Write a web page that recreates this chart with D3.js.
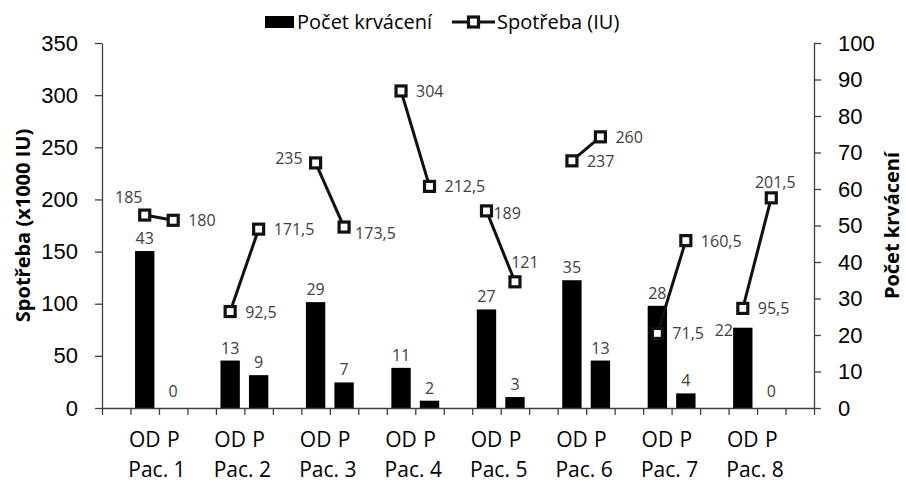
<!DOCTYPE html>
<html>
<head>
<meta charset="utf-8">
<script src="https://cdn.jsdelivr.net/npm/d3@7"></script>
<style>
	body { margin: 0; background: #fff; }
	svg { display: block; font-family: 'Open Sans', sans-serif; }
	.axis path, .axis line { stroke: #404040; stroke-width: 1.3; }
	.axis text { fill: #000; font-size: 22px; }
	.dlabel { fill: #404040; font-size: 16px; }
</style>
</head>
<body>
<div id="graph"></div>
<script>
// data
var patients = ['Pac. 1', 'Pac. 2', 'Pac. 3', 'Pac. 4', 'Pac. 5', 'Pac. 6', 'Pac. 7', 'Pac. 8'];
var periods = ['OD', 'P'];

// Počet krvácení (right axis), OD / P
var bleedOD = [43, 13, 29, 11, 27, 35, 28, 22];
var bleedP = [0, 9, 7, 2, 3, 13, 4, 0];

// Spotřeba (x1000 IU) (left axis), OD / P
var useOD = [185, 92.5, 235, 304, 189, 237, 71.5, 95.5];
var useP = [180, 171.5, 173.5, 212.5, 121, 260, 160.5, 201.5];

var leftTicks = [0, 50, 100, 150, 200, 250, 300, 350];
var rightTicks = [0, 10, 20, 30, 40, 50, 60, 70, 80, 90, 100];

// where the consumption labels sit next to their marker
var useLabelOD = ['tl', 'r', 'l', 'r', 'rc', 'r', 'r', 'r'];
var useLabelP = ['r', 'r', 'br', 'r', 'tr', 'r', 'r', 't'];
var bleedLabelOD = ['t', 't', 't', 't', 't', 't', 't', 'tl'];


var width = 906,
	height = 485;

var plot = { left: 102, right: 814, top: 43, bottom: 408 };

var svg = d3.select('#graph').append('svg')
	.attr('width', width)
	.attr('height', height);

// 25 slots: a blank one first, then OD, P, blank for each patient
var slots = d3.range(patients.length * 3 + 1);

var xScale = d3.scaleBand()
	.domain(slots)
	.range([plot.left, plot.right])
	.paddingInner(0)
	.paddingOuter(0);

var xEdge = d3.scaleLinear()
	.domain([0, slots.length])
	.range([plot.left, plot.right]);

var yLeft = d3.scaleLinear()
	.domain([0, 350])
	.range([plot.bottom, plot.top]);

var yRight = d3.scaleLinear()
	.domain([0, 100])
	.range([plot.bottom, plot.top]);

function slotOf(p, k) {
	return p * 3 + 1 + k;
}

function cx(p, k) {
	return xScale(slotOf(p, k)) + xScale.bandwidth() / 2;
}

function fmt(v) {
	return String(v).replace('.', ',');
}


// rows for bars and points
var bars = [];
var points = [];
patients.forEach(function(name, p) {
	bars.push({ p: p, k: 0, v: bleedOD[p], pos: bleedLabelOD[p] });
	bars.push({ p: p, k: 1, v: bleedP[p], pos: 't' });
	points.push({ p: p, k: 0, v: useOD[p], pos: useLabelOD[p] });
	points.push({ p: p, k: 1, v: useP[p], pos: useLabelP[p] });
});


// bars
var barW = xScale.bandwidth() * 0.68;

svg.append('g').selectAll('rect').data(bars).enter()
	.append('rect')
		.attr('x', function(d) { return cx(d.p, d.k) - barW / 2; })
		.attr('y', function(d) { return yRight(d.v); })
		.attr('width', barW)
		.attr('height', function(d) { return plot.bottom - yRight(d.v); })
		.attr('fill', '#000');

svg.append('g').selectAll('text').data(bars).enter()
	.append('text')
		.attr('class', 'dlabel')
		.attr('text-anchor', 'middle')
		.attr('x', function(d) { return cx(d.p, d.k) + (d.pos == 'tl' ? -19 : 0); })
		.attr('y', function(d) { return yRight(d.v) - (d.v == 0 ? 11 : 7) + (d.pos == 'tl' ? 15 : 0); })
		.text(function(d) { return fmt(d.v); });


// axes
svg.append('g')
	.attr('class', 'axis')
	.attr('transform', 'translate(' + plot.left + ',0)')
	.call(d3.axisLeft(yLeft).tickValues(leftTicks).tickSize(7).tickSizeOuter(0).tickPadding(17));

svg.append('g')
	.attr('class', 'axis')
	.attr('transform', 'translate(' + plot.right + ',0)')
	.call(d3.axisRight(yRight).tickValues(rightTicks).tickSize(7).tickSizeOuter(0).tickPadding(17));

svg.append('g')
	.attr('class', 'axis')
	.attr('transform', 'translate(0,' + plot.bottom + ')')
	.call(d3.axisBottom(xEdge).tickValues(d3.range(slots.length + 1)).tickSize(7).tickSizeOuter(0).tickFormat(''));

// category labels
var catG = svg.append('g').attr('font-size', '21px').attr('text-anchor', 'middle');
patients.forEach(function(name, p) {
	periods.forEach(function(per, k) {
		catG.append('text')
			.attr('x', cx(p, k))
			.attr('y', 447)
			.text(per);
	});
	catG.append('text')
		.attr('x', (cx(p, 0) + cx(p, 1)) / 2 - 2)
		.attr('y', 477)
		.text(name);
});


// consumption lines, one segment per patient
var line = d3.line()
	.x(function(d) { return cx(d.p, d.k); })
	.y(function(d) { return yLeft(d.v); });

patients.forEach(function(name, p) {
	svg.append('path')
		.datum(points.filter(function(d) { return d.p == p; }))
		.attr('d', line)
		.attr('fill', 'none')
		.attr('stroke', '#111')
		.attr('stroke-width', 3);
});

var mk = 10;
svg.append('g').selectAll('rect').data(points).enter()
	.append('rect')
		.attr('x', function(d) { return cx(d.p, d.k) - mk / 2; })
		.attr('y', function(d) { return yLeft(d.v) - mk / 2; })
		.attr('width', mk)
		.attr('height', mk)
		.attr('fill', '#fff')
		.attr('stroke', '#111')
		.attr('stroke-width', 3.2);

var offsets = {
	r:  { dx: 15, dy: 6, anchor: 'start' },
	rc: { dx: 7, dy: 8, anchor: 'start' },
	l:  { dx: -13, dy: 1, anchor: 'end' },
	tl: { dx: -16, dy: -12, anchor: 'middle' },
	br: { dx: 11, dy: 12, anchor: 'start' },
	tr: { dx: 10, dy: -14, anchor: 'middle' },
	t:  { dx: 4, dy: -10, anchor: 'middle' }
};

svg.append('g').selectAll('text').data(points).enter()
	.append('text')
		.attr('class', 'dlabel')
		.attr('text-anchor', function(d) { return offsets[d.pos].anchor; })
		.attr('x', function(d) { return cx(d.p, d.k) + offsets[d.pos].dx; })
		.attr('y', function(d) { return yLeft(d.v) + offsets[d.pos].dy; })
		.text(function(d) { return fmt(d.v); });


// axis titles
svg.append('text')
	.attr('transform', 'translate(30,' + (plot.top + plot.bottom) / 2 + ') rotate(-90)')
	.attr('text-anchor', 'middle')
	.attr('font-size', '20px')
	.attr('font-weight', 'bold')
	.text('Spotřeba (x1000 IU)');

svg.append('text')
	.attr('transform', 'translate(899,' + (plot.top + plot.bottom) / 2 + ') rotate(-90)')
	.attr('text-anchor', 'middle')
	.attr('font-size', '20px')
	.attr('font-weight', 'bold')
	.text('Počet krvácení');


// legend
var legend = svg.append('g').attr('font-size', '20px');

legend.append('rect')
	.attr('x', 265).attr('y', 16)
	.attr('width', 29).attr('height', 12)
	.attr('fill', '#000');

legend.append('text')
	.attr('x', 297).attr('y', 29)
	.text('Počet krvácení');

legend.append('line')
	.attr('x1', 452).attr('x2', 495)
	.attr('y1', 22).attr('y2', 22)
	.attr('stroke', '#111')
	.attr('stroke-width', 3);

legend.append('rect')
	.attr('x', 473.5 - mk / 2).attr('y', 22 - mk / 2)
	.attr('width', mk).attr('height', mk)
	.attr('fill', '#fff')
	.attr('stroke', '#111')
	.attr('stroke-width', 3.2);

legend.append('text')
	.attr('x', 497).attr('y', 29)
	.text('Spotřeba (IU)');
</script>
</body>
</html>
